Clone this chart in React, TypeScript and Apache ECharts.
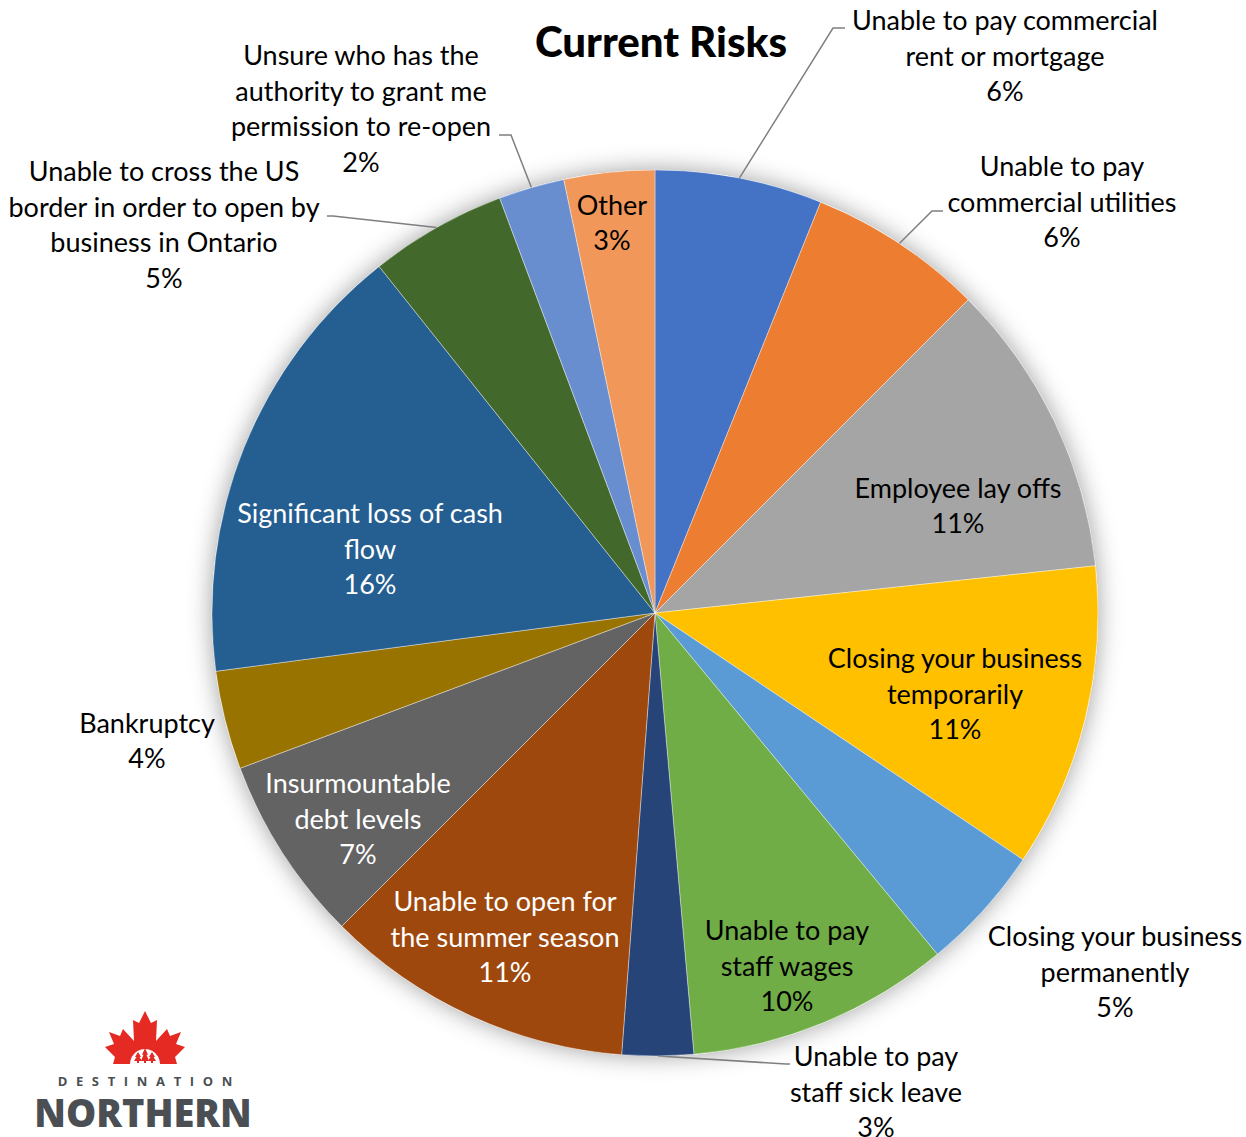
import React, { useEffect, useRef } from "react";
import * as echarts from "echarts";

// ---- data ----
const categories: string[] = [
  "Unable to pay commercial\nrent or mortgage",
  "Unable to pay\ncommercial utilities",
  "Employee lay offs",
  "Closing your business\ntemporarily",
  "Closing your business\npermanently",
  "Unable to pay\nstaff wages",
  "Unable to pay\nstaff sick leave",
  "Unable to open for\nthe summer season",
  "Insurmountable\ndebt levels",
  "Bankruptcy",
  "Significant loss of cash\nflow",
  "Unable to cross the US\nborder in order to open by\nbusiness in Ontario",
  "Unsure who has the\nauthority to grant me\npermission to re-open",
  "Other",
];
const shares: number[] = [6.1, 6.4, 10.8, 11.1, 4.6, 9.6, 2.6, 11.3, 6.8, 3.6, 16.4, 5.0, 2.4, 3.3];

// ---- styles / layout ----
const colors = [
  "#4472C4", "#ED7D31", "#A5A5A5", "#FFC000", "#5B9BD5", "#70AD47", "#264478",
  "#9E480E", "#636363", "#997300", "#255E91", "#43682B", "#698ED0", "#F1975A",
];
const labelInside = [false, false, true, true, false, true, false, true, true, false, true, false, false, true];
const labelColor = [
  "#000", "#000", "#000", "#000", "#000", "#000", "#000",
  "#fff", "#fff", "#000", "#fff", "#000", "#000", "#000",
];
// label block centres (px)
const labelPos: [number, number][] = [
  [1005, 55], [1062, 201], [958, 505], [955, 693], [1115, 971], [787, 965], [876, 1091],
  [505, 936], [358, 818], [147, 740], [370, 548], [164, 224], [361, 108], [612, 222],
];
// leader line elbow + end points (px), null = no line
const leader: ([number, number][] | null)[] = [
  [[833, 28], [845, 28]],
  [[932, 211], [943, 211]],
  null, null, null, null,
  [[786, 1064], [790, 1064]],
  null, null, null, null,
  [[333, 216], [327, 216]],
  [[511, 135], [499, 135]],
  null,
];

const FONT = "Lato";

export default function App() {
  const ref = useRef<HTMLDivElement>(null);
  useEffect(() => {
    if (!ref.current) return;
    const chart = echarts.init(ref.current, undefined, { renderer: "svg" });

    const pieData = categories.map((name, i) => ({
      name,
      value: shares[i],
      itemStyle: { color: colors[i] },
      label: {
        position: labelInside[i] ? "inside" : "outside",
        color: labelColor[i],
      },
      labelLine: { show: !!leader[i] },
    }));

    // maple leaf polygon (logo)
    const leafHalf: [number, number][] = [
      [0, 0], [6, 12], [12, 9], [11, 30], [22, 18], [25, 25], [36, 21], [31, 33],
      [40, 36], [30, 46], [32, 53], [0, 53],
    ];
    const lcx = 145, lty = 1011;
    const leafPts: number[][] = [];
    leafHalf.forEach(([dx, dy]) => leafPts.push([lcx + dx, lty + dy]));
    for (let k = leafHalf.length - 2; k >= 1; k--) {
      const [dx, dy] = leafHalf[k];
      leafPts.push([lcx - dx, lty + dy]);
    }
    const treeShape = (x: number, base: number, h: number) => ({
      type: "polygon",
      shape: {
        points: [
          [x, base - h], [x + 3, base - h * 0.55], [x + 1.5, base - h * 0.55], [x + 4, base - 2],
          [x + 1, base - 2], [x + 1, base], [x - 1, base], [x - 1, base - 2], [x - 4, base - 2],
          [x - 1.5, base - h * 0.55], [x - 3, base - h * 0.55],
        ],
      },
      style: { fill: "#E42A23" },
    });

    const option: any = {
      animation: false,
      backgroundColor: "#fff",
      title: {
        text: "Current Risks",
        left: 656,
        top: 15,
        textAlign: "center",
        textStyle: { fontFamily: FONT, fontWeight: 900, fontSize: 42, color: "#000" },
      },
      series: [
        {
          type: "pie",
          z: 1,
          silent: true,
          center: [655, 613],
          radius: 443,
          label: { show: false },
          labelLine: { show: false },
          itemStyle: { color: "#fff", shadowBlur: 24, shadowColor: "rgba(0,0,0,0.38)" },
          data: [{ value: 1, name: "" }],
        },
        {
          type: "pie",
          z: 2,
          center: [655, 613],
          radius: 443,
          startAngle: 90,
          clockwise: true,
          avoidLabelOverlap: false,
          itemStyle: { borderColor: "rgba(255,255,255,0.55)", borderWidth: 0.7 },
          label: {
            show: true,
            fontFamily: FONT,
            fontSize: 27,
            lineHeight: 35.7,
            align: "center",
            overflow: "none",
            formatter: (p: any) => `${p.name}\n${Math.round(p.value)}%`,
          },
          labelLine: { lineStyle: { color: "#7F7F7F", width: 1.5 } },
          labelLayout: (params: any) => {
            const i = params.dataIndex;
            const [x, y] = labelPos[i];
            const res: any = { x, y, align: "center", verticalAlign: "middle" };
            const g = leader[i];
            if (g && params.labelLinePoints) {
              res.labelLinePoints = [params.labelLinePoints[0], g[0], g[1]];
            }
            return res;
          },
          data: pieData,
        },
      ],
      graphic: [
        {
          type: "group",
          children: [
            { type: "polygon", shape: { points: leafPts }, style: { fill: "#E42A23" } },
            { type: "circle", shape: { cx: lcx, cy: 1064, r: 15 }, style: { fill: "#fff" } },
            treeShape(138, 1063, 11),
            treeShape(145, 1063, 15),
            treeShape(152, 1063, 11),
            {
              type: "text",
              x: 145,
              y: 1081,
              style: {
                text: "D E S T I N A T I O N".replace(/ /g, "\u2002\u2009"),
                fill: "#4B4F54",
                font: "bold 13px 'Open Sans'",
                align: "center",
                verticalAlign: "middle",
              },
            },
            {
              type: "text",
              x: 143,
              y: 1112,
              style: {
                text: "NORTHERN",
                fill: "#4B4F54",
                font: "800 38px 'Open Sans'",
                align: "center",
                verticalAlign: "middle",
              },
            },
            {
              type: "text",
              x: 143,
              y: 1151,
              style: {
                text: "ONTARIO",
                fill: "#4B4F54",
                font: "800 38px 'Open Sans'",
                align: "center",
                verticalAlign: "middle",
              },
            },
          ],
        },
      ],
    };
    chart.setOption(option);
    return () => chart.dispose();
  }, []);
  return (
    <div
      ref={ref}
      style={{ position: "fixed", left: 0, top: 0, width: 1246, height: 1137, background: "#fff" }}
    />
  );
}
